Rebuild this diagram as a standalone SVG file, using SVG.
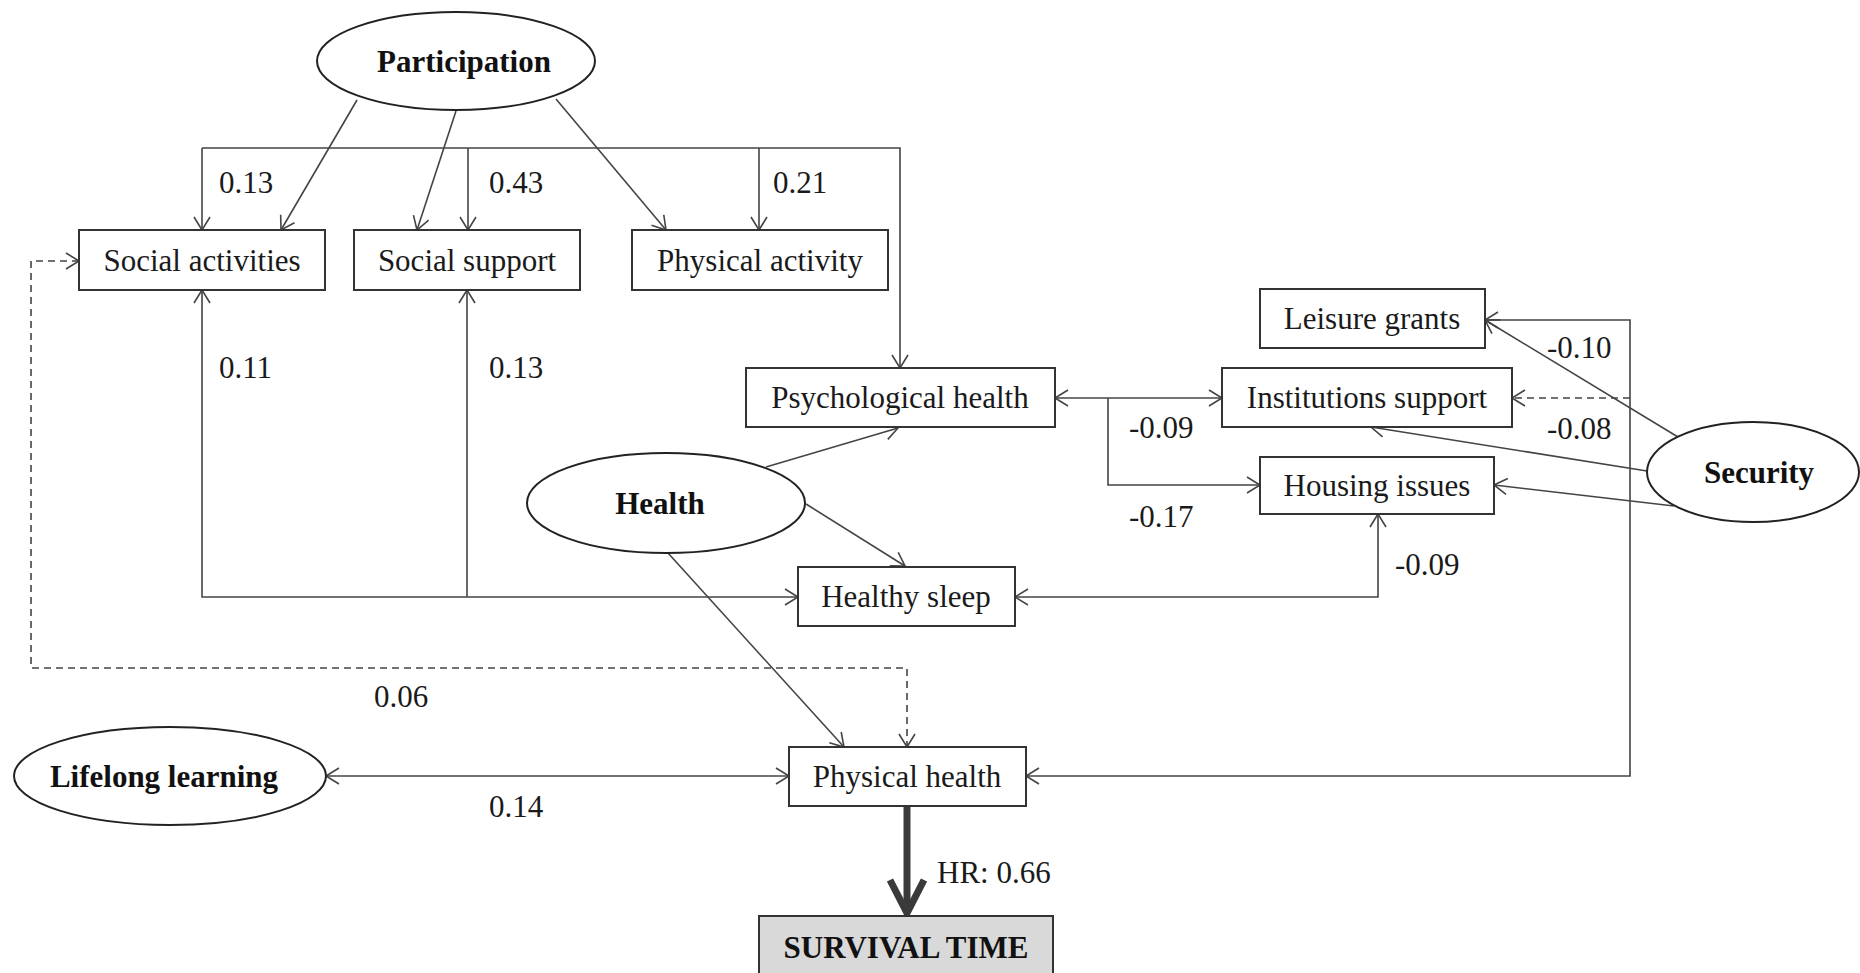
<svg xmlns="http://www.w3.org/2000/svg" width="1860" height="973" viewBox="0 0 1860 973">
<style>
  .box{fill:#fff;stroke:#333;stroke-width:2}
  .ell{fill:#fff;stroke:#222;stroke-width:2}
  .t{font-family:"Liberation Serif","Times New Roman",serif;font-size:31px;fill:#1a1a1a}
  .tb{font-family:"Liberation Serif","Times New Roman",serif;font-size:31px;font-weight:bold;fill:#111}
  .c{text-anchor:middle}
  .ln{fill:none;stroke:#444;stroke-width:1.6}
  .dash{stroke-dasharray:7 5}
</style>
<defs>
  <marker id="a" markerUnits="userSpaceOnUse" markerWidth="16" markerHeight="18" refX="14" refY="9" orient="auto-start-reverse">
    <path d="M1,1 L14,9 L1,17" fill="none" stroke="#444" stroke-width="1.6"/>
  </marker>
</defs>
<rect width="1860" height="973" fill="#fff"/>

<g id="connectors">
  <line class="ln" x1="357" y1="100" x2="281" y2="230" marker-end="url(#a)"/>
  <line class="ln" x1="456" y1="111" x2="417" y2="230" marker-end="url(#a)"/>
  <line class="ln" x1="556" y1="99" x2="666" y2="230" marker-end="url(#a)"/>
  <path class="ln" d="M202,148 H900 V368" marker-end="url(#a)"/>
  <line class="ln" x1="202" y1="148" x2="202" y2="230" marker-end="url(#a)"/>
  <line class="ln" x1="468" y1="148" x2="468" y2="230" marker-end="url(#a)"/>
  <line class="ln" x1="759" y1="148" x2="759" y2="230" marker-end="url(#a)"/>
  <path class="ln" d="M202,290 V597 H798" marker-start="url(#a)" marker-end="url(#a)"/>
  <line class="ln" x1="467" y1="597" x2="467" y2="290" marker-end="url(#a)"/>
  <line class="ln" x1="1055" y1="398" x2="1222" y2="398" marker-start="url(#a)" marker-end="url(#a)"/>
  <path class="ln" d="M1108,398 V485 H1260" marker-end="url(#a)"/>
  <path class="ln" d="M1015,597 H1378 V514" marker-start="url(#a)" marker-end="url(#a)"/>
  <path class="ln" d="M1485,320 H1630 V776 H1026" marker-start="url(#a)" marker-end="url(#a)"/>
  <path class="ln dash" d="M1630,398 H1512" marker-end="url(#a)"/>
  <line class="ln" x1="1678" y1="437" x2="1485" y2="320" marker-end="url(#a)"/>
  <line class="ln" x1="1647" y1="471" x2="1371" y2="427" marker-end="url(#a)"/>
  <line class="ln" x1="1674" y1="506" x2="1494" y2="485" marker-end="url(#a)"/>
  <line class="ln" x1="766" y1="467" x2="898" y2="428" marker-end="url(#a)"/>
  <line class="ln" x1="806" y1="504" x2="905" y2="566" marker-end="url(#a)"/>
  <line class="ln" x1="668" y1="553" x2="844" y2="747" marker-end="url(#a)"/>
  <path class="ln dash" d="M79,261 H31 V668 H907 V747" marker-start="url(#a)" marker-end="url(#a)"/>
  <path class="ln" d="M326,776 H789" marker-start="url(#a)" marker-end="url(#a)"/>
  <path d="M907,806 V912" fill="none" stroke="#3a3a3a" stroke-width="7"/>
  <path d="M890,880 L907,913 L924,880" fill="none" stroke="#3a3a3a" stroke-width="7" stroke-linejoin="miter"/>
  <text class="t" x="219" y="193">0.13</text>
  <text class="t" x="489" y="193">0.43</text>
  <text class="t" x="773" y="193">0.21</text>
  <text class="t" x="219" y="378">0.11</text>
  <text class="t" x="489" y="378">0.13</text>
  <text class="t" x="1129" y="438">-0.09</text>
  <text class="t" x="1129" y="527">-0.17</text>
  <text class="t" x="1395" y="575">-0.09</text>
  <text class="t" x="1547" y="358">-0.10</text>
  <text class="t" x="1547" y="439">-0.08</text>
  <text class="t" x="374" y="707">0.06</text>
  <text class="t" x="489" y="817">0.14</text>
  <text class="t" x="937" y="883">HR: 0.66</text>
</g>

<g id="participation">
  <ellipse class="ell" cx="456" cy="61" rx="139" ry="49"/>
  <text class="tb c" x="464" y="72">Participation</text>
</g>
<g id="social-activities">
  <rect class="box" x="79" y="230" width="246" height="60"/>
  <text class="t c" x="202" y="271">Social activities</text>
</g>
<g id="social-support">
  <rect class="box" x="354" y="230" width="226" height="60"/>
  <text class="t c" x="467" y="271">Social support</text>
</g>
<g id="physical-activity">
  <rect class="box" x="632" y="230" width="256" height="60"/>
  <text class="t c" x="760" y="271">Physical activity</text>
</g>
<g id="leisure-grants">
  <rect class="box" x="1260" y="289" width="225" height="59"/>
  <text class="t c" x="1372" y="329">Leisure grants</text>
</g>
<g id="psychological-health">
  <rect class="box" x="746" y="368" width="309" height="59"/>
  <text class="t c" x="900" y="408">Psychological health</text>
</g>
<g id="institutions-support">
  <rect class="box" x="1222" y="368" width="290" height="59"/>
  <text class="t c" x="1367" y="408">Institutions support</text>
</g>
<g id="housing-issues">
  <rect class="box" x="1260" y="457" width="234" height="57"/>
  <text class="t c" x="1377" y="496">Housing issues</text>
</g>
<g id="security">
  <ellipse class="ell" cx="1753" cy="472" rx="106" ry="50"/>
  <text class="tb c" x="1759" y="483">Security</text>
</g>
<g id="health">
  <ellipse class="ell" cx="666" cy="503" rx="139" ry="50"/>
  <text class="tb c" x="660" y="514">Health</text>
</g>
<g id="healthy-sleep">
  <rect class="box" x="798" y="567" width="217" height="59"/>
  <text class="t c" x="906" y="607">Healthy sleep</text>
</g>
<g id="lifelong-learning">
  <ellipse class="ell" cx="170" cy="776" rx="156" ry="49"/>
  <text class="tb c" x="164" y="787">Lifelong learning</text>
</g>
<g id="physical-health">
  <rect class="box" x="789" y="747" width="237" height="59"/>
  <text class="t c" x="907" y="787">Physical health</text>
</g>
<g id="survival-time">
  <rect x="759" y="916" width="294" height="70" fill="#d9d9d9" stroke="#333" stroke-width="2"/>
  <text class="tb c" x="906" y="958">SURVIVAL TIME</text>
</g>
</svg>
